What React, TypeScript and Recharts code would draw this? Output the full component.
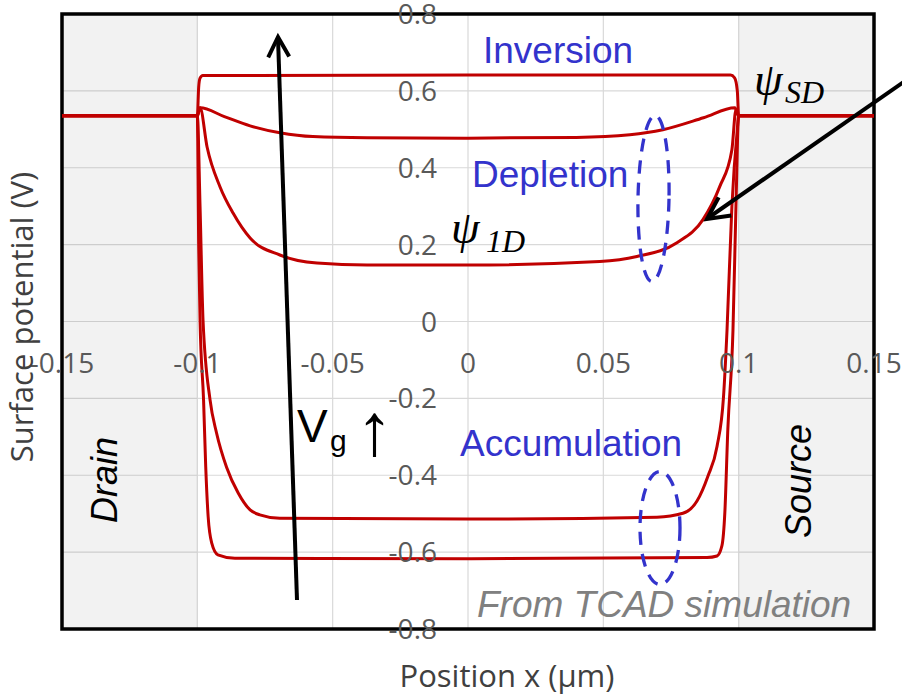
import React from 'react'
import { LineChart, Line, XAxis, YAxis, CartesianGrid, ReferenceArea } from 'recharts'

// surface potential (V) along the channel, one array per gate bias
const inversion = [
  { x: -0.15, v: 0.535 }, { x: -0.1, v: 0.535 }, { x: -0.0995, v: 0.61 }, { x: -0.099, v: 0.633 },
  { x: -0.098, v: 0.64 }, { x: 0, v: 0.641 }, { x: 0.097, v: 0.641 }, { x: 0.0985, v: 0.634 },
  { x: 0.0995, v: 0.6 }, { x: 0.1, v: 0.535 }, { x: 0.15, v: 0.535 },
]
const weakInversion = [
  { x: -0.15, v: 0.535 }, { x: -0.1, v: 0.535 }, { x: -0.099, v: 0.556 }, { x: -0.09, v: 0.533 },
  { x: -0.0805, v: 0.509 }, { x: -0.0695, v: 0.491 }, { x: -0.0573, v: 0.481 }, { x: -0.0373, v: 0.478 },
  { x: 0, v: 0.477 }, { x: 0.04, v: 0.479 }, { x: 0.0598, v: 0.486 }, { x: 0.072, v: 0.499 },
  { x: 0.087, v: 0.53 }, { x: 0.0986, v: 0.556 }, { x: 0.1, v: 0.535 }, { x: 0.15, v: 0.535 },
]
const depletion = [
  { x: -0.15, v: 0.535 }, { x: -0.1, v: 0.535 }, { x: -0.099, v: 0.556 }, { x: -0.0964, v: 0.454 },
  { x: -0.0916, v: 0.35 }, { x: -0.0868, v: 0.282 }, { x: -0.0805, v: 0.217 }, { x: -0.0695, v: 0.173 },
  { x: -0.0558, v: 0.152 }, { x: -0.0373, v: 0.147 }, { x: 0, v: 0.147 }, { x: 0.0487, v: 0.156 },
  { x: 0.0624, v: 0.169 }, { x: 0.0772, v: 0.205 }, { x: 0.0868, v: 0.265 }, { x: 0.093, v: 0.351 },
  { x: 0.0975, v: 0.447 }, { x: 0.099, v: 0.551 }, { x: 0.1, v: 0.535 }, { x: 0.15, v: 0.535 },
]
const accumulation = [
  { x: -0.15, v: 0.535 }, { x: -0.1, v: 0.535 }, { x: -0.099, v: 0.3 }, { x: -0.0979, v: 0.004 },
  { x: -0.0953, v: -0.204 }, { x: -0.0929, v: -0.29 }, { x: -0.0892, v: -0.379 }, { x: -0.0849, v: -0.446 },
  { x: -0.0805, v: -0.49 }, { x: -0.0769, v: -0.503 }, { x: -0.0695, v: -0.512 }, { x: 0, v: -0.514 },
  { x: 0.0698, v: -0.509 }, { x: 0.0794, v: -0.499 }, { x: 0.0846, v: -0.467 }, { x: 0.0886, v: -0.403 },
  { x: 0.092, v: -0.325 }, { x: 0.0944, v: -0.196 }, { x: 0.0957, v: -0.022 }, { x: 0.0975, v: 0.3 },
  { x: 0.0995, v: 0.5 }, { x: 0.1, v: 0.535 }, { x: 0.15, v: 0.535 },
]
const strongAccumulation = [
  { x: -0.15, v: 0.535 }, { x: -0.1, v: 0.535 }, { x: -0.0995, v: 0.2 }, { x: -0.099, v: 0.004 },
  { x: -0.0977, v: -0.204 }, { x: -0.0969, v: -0.378 }, { x: -0.096, v: -0.508 }, { x: -0.0947, v: -0.576 },
  { x: -0.0924, v: -0.607 }, { x: -0.0861, v: -0.616 }, { x: 0, v: -0.617 }, { x: 0.0883, v: -0.614 },
  { x: 0.092, v: -0.61 }, { x: 0.0938, v: -0.584 }, { x: 0.0949, v: -0.496 }, { x: 0.096, v: -0.28 },
  { x: 0.0979, v: -0.022 }, { x: 0.099, v: 0.3 }, { x: 0.1, v: 0.535 }, { x: 0.15, v: 0.535 },
]

const xTicks = [-0.15, -0.1, -0.05, 0, 0.05, 0.1, 0.15]
const yTicks = [0.8, 0.6, 0.4, 0.2, 0, -0.2, -0.4, -0.6, -0.8]

const curves = [inversion, weakInversion, depletion, accumulation, strongAccumulation]

const W = 902
const H = 699
const X_AXIS_H = 30
const Y_AXIS_W = 60
const margin = { top: 14, right: 28, bottom: 70 - X_AXIS_H, left: 62 - Y_AXIS_W }
// axes cross in the middle of the plot
const plotLeft = 62
const plotBottom = H - 70
const zeroX = plotLeft + (W - plotLeft - margin.right) / 2
const zeroY = margin.top + (plotBottom - margin.top) / 2

const RED = '#c00000'
const BLUE = '#3333cc'
const tickFont = { fontFamily: '"Open Sans", sans-serif', fontSize: 28, fill: '#595959' }

const XTick = (props: any) => (
  <text x={props.x} y={zeroY + 51} textAnchor="middle" {...tickFont}>
    {props.payload.value}
  </text>
)

const YTick = (props: any) => (
  <text x={zeroX - 31} y={props.y + 10} textAnchor="end" {...tickFont}>
    {props.payload.value}
  </text>
)

const Overlay = () => (
  <svg width={W} height={H} style={{ position: 'absolute', left: 0, top: 0, pointerEvents: 'none' }}>
    <g fontFamily='"Open Sans", sans-serif' fill="#404040">
      <text transform="translate(33,317) rotate(-90)" textAnchor="middle" fontSize={31}>
        Surface potential (V)
      </text>
      <text x={507} y={687} textAnchor="middle" fontSize={31}>
        Position x (μm)
      </text>
    </g>

    <g fontFamily='"Liberation Sans", Arial, sans-serif'>
      <text x={483} y={63} fontSize={37} fill={BLUE}>Inversion</text>
      <text x={472} y={187} fontSize={37} fill={BLUE}>Depletion</text>
      <text x={460} y={456} fontSize={37} fill={BLUE}>Accumulation</text>
      <text x={477} y={617} fontSize={37} fontStyle="italic" fill="#808080">From TCAD simulation</text>
      <text transform="translate(117,480) rotate(-90)" textAnchor="middle" fontSize={36} fontStyle="italic" fill="#000">
        Drain
      </text>
      <text transform="translate(811,481) rotate(-90)" textAnchor="middle" fontSize={36} fontStyle="italic" fill="#000">
        Source
      </text>
      <text x={297} y={442} fontSize={46} fill="#000">V</text>
      <text x={330} y={451} fontSize={30} fill="#000">g</text>
      <text x={356} y={455} fontSize={74} fill="#000">↑</text>
    </g>

    <g fontFamily='"Liberation Serif", serif' fontStyle="italic" fill="#000">
      <text x={754} y={95} fontSize={46}>ψ</text>
      <text x={785} y={103} fontSize={32}>SD</text>
      <text x={451} y={243} fontSize={46}>ψ</text>
      <text x={486} y={252} fontSize={32}>1D</text>
    </g>

    <g stroke="#000" strokeWidth={4} fill="none" strokeLinejoin="miter">
      <line x1={297} y1={600} x2={278} y2={38} />
      <polyline points="268.2,57.4 278,37 289.2,56.6" />
      <line x1={905} y1={81} x2={708} y2={218} />
      <polyline points="718.7,197.4 707,219 731.3,215.4" />
    </g>

    <g stroke={BLUE} strokeWidth={3.3} fill="none" strokeDasharray="13 9">
      <ellipse cx={653.5} cy={198.5} rx={15.5} ry={83} transform="rotate(1.1 653.5 198.5)" />
      <ellipse cx={660} cy={528} rx={20} ry={56.5} />
    </g>
  </svg>
)

export default function App() {
  return (
    <div style={{ position: 'absolute', left: 0, top: 0, width: W, height: H, background: '#fff' }}>
      <LineChart width={W} height={H} margin={margin}>
        {/* drain / source bands, translucent so the grid shows through */}
        <ReferenceArea x1={-0.15} x2={-0.1} y1={-0.8} y2={0.8} fill="#000" fillOpacity={0.051} stroke="none" />
        <ReferenceArea x1={0.1} x2={0.15} y1={-0.8} y2={0.8} fill="#000" fillOpacity={0.051} stroke="none" />
        <CartesianGrid stroke="#d9d9d9" strokeWidth={1.2} />
        <XAxis
          type="number"
          dataKey="x"
          domain={[-0.15, 0.15]}
          ticks={xTicks}
          interval={0}
          height={X_AXIS_H}
          axisLine={false}
          tickLine={false}
          tick={XTick}
          allowDataOverflow
        />
        <YAxis
          type="number"
          domain={[-0.8, 0.8]}
          ticks={yTicks}
          interval={0}
          width={Y_AXIS_W}
          axisLine={false}
          tickLine={false}
          tick={YTick}
          allowDataOverflow
        />
        {curves.map((pts, i) => (
          <Line
            key={i}
            data={pts}
            dataKey="v"
            type="monotone"
            stroke={RED}
            strokeWidth={3}
            dot={false}
            isAnimationActive={false}
          />
        ))}
        <ReferenceArea x1={-0.15} x2={0.15} y1={-0.8} y2={0.8} fill="none" stroke="#000" strokeWidth={3.5} />
      </LineChart>
      <Overlay />
    </div>
  )
}
